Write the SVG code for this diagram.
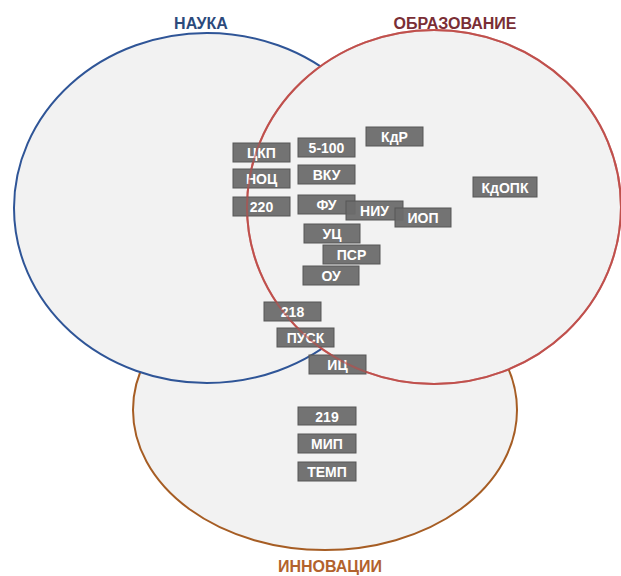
<svg xmlns="http://www.w3.org/2000/svg" width="621" height="576" viewBox="0 0 621 576">
<style>
.bg{fill:#f2f2f2;stroke-width:2}
.box rect{fill:#6b6b6b;stroke:#565656;stroke-width:1;fill-opacity:0.95}
.box text{fill:#ffffff;font-family:"Liberation Sans",Arial,sans-serif;font-weight:bold;font-size:14px;text-anchor:middle}
.title{font-family:"Liberation Sans",Arial,sans-serif;font-weight:bold;font-size:16px;text-anchor:middle}
</style>
<rect width="621" height="576" fill="#ffffff"/>
<g id="circles">
<ellipse id="innovacii" class="bg" cx="325" cy="410" rx="192" ry="140" stroke="#a65d24"/>
<ellipse id="nauka" class="bg" cx="207" cy="208" rx="193" ry="175" stroke="#2f5597"/>
<ellipse id="obrazovanie" class="bg" cx="434" cy="207" rx="187" ry="177" stroke="#c0504d"/>
</g>
<g id="connectors"/>
<g id="nodes">
<g id="n-ckp" class="box"><rect x="233" y="143" width="57" height="19"/><text x="261.5" y="158">ЦКП</text></g>
<g id="n-noc" class="box"><rect x="233" y="169" width="57" height="19"/><text x="261.5" y="184">НОЦ</text></g>
<g id="n-220" class="box"><rect x="233" y="197" width="57" height="19"/><text x="261.5" y="212">220</text></g>
<g id="n-5100" class="box"><rect x="298" y="138" width="57" height="19"/><text x="326.5" y="153">5-100</text></g>
<g id="n-vku" class="box"><rect x="298" y="165" width="57" height="19"/><text x="326.5" y="180">ВКУ</text></g>
<g id="n-fu" class="box"><rect x="298" y="195" width="57" height="19"/><text x="326.5" y="210">ФУ</text></g>
<g id="n-kdr" class="box"><rect x="366" y="127" width="57" height="19"/><text x="394.5" y="142">КдР</text></g>
<g id="n-niu" class="box"><rect x="346" y="201" width="57" height="19"/><text x="374.5" y="216">НИУ</text></g>
<g id="n-iop" class="box"><rect x="395" y="208" width="56" height="19"/><text x="423" y="223">ИОП</text></g>
<g id="n-kdopk" class="box"><rect x="473" y="177" width="64" height="20"/><text x="505" y="192.5">КдОПК</text></g>
<g id="n-uc" class="box"><rect x="304" y="224" width="56" height="19"/><text x="332" y="239">УЦ</text></g>
<g id="n-psr" class="box"><rect x="323" y="245" width="57" height="19"/><text x="351.5" y="260">ПСР</text></g>
<g id="n-ou" class="box"><rect x="303" y="266" width="56" height="19"/><text x="331" y="281">ОУ</text></g>
<g id="n-218" class="box"><rect x="264" y="302" width="57" height="19"/><text x="292.5" y="317">218</text></g>
<g id="n-pusk" class="box"><rect x="277" y="328" width="57" height="19"/><text x="305.5" y="343">ПУСК</text></g>
<g id="n-ic" class="box"><rect x="309" y="355" width="57" height="19"/><text x="337.5" y="370">ИЦ</text></g>
<g id="n-219" class="box"><rect x="298" y="407" width="58" height="18"/><text x="327" y="421.5">219</text></g>
<g id="n-mip" class="box"><rect x="298" y="434" width="58" height="19"/><text x="327" y="449">МИП</text></g>
<g id="n-temp" class="box"><rect x="298" y="462" width="58" height="19"/><text x="327" y="477">ТЕМП</text></g>
</g>
<ellipse cx="434" cy="207" rx="187" ry="177" fill="none" stroke="#c0504d" stroke-width="2" stroke-opacity="0.6"/>
<g id="labels">
<text class="title" x="201" y="29" fill="#2c4a7c">НАУКА</text>
<text class="title" x="455" y="29" fill="#7a2e35">ОБРАЗОВАНИЕ</text>
<text class="title" x="330" y="572" fill="#b2622d">ИННОВАЦИИ</text>
</g>
</svg>
